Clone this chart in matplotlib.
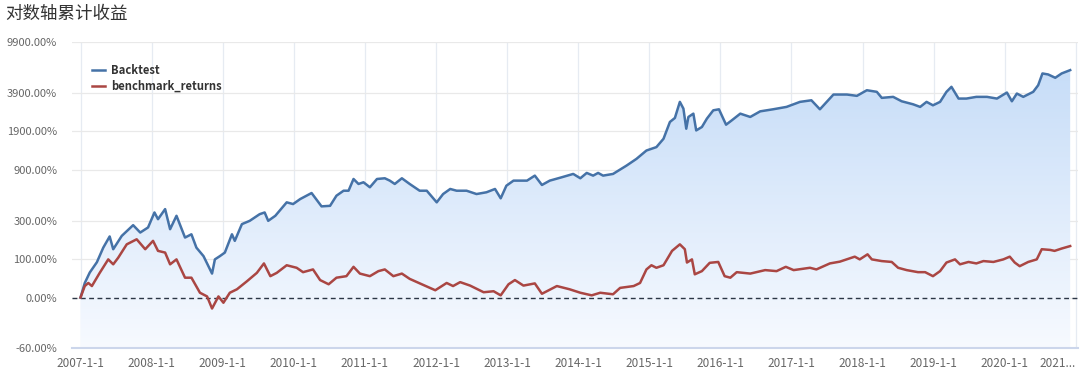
import numpy as np
import matplotlib
matplotlib.use('Agg')
import matplotlib.pyplot as plt
from matplotlib.lines import Line2D

plt.rcParams['font.family'] = ['Noto Sans CJK SC', 'DejaVu Sans']

# cumulative returns (%), x in fractional years
bt_years = [2007.00, 2007.06, 2007.13, 2007.23, 2007.32, 2007.41, 2007.46, 2007.58, 2007.74, 2007.84,
            2007.95, 2008.04, 2008.09, 2008.19, 2008.26, 2008.35, 2008.47, 2008.56, 2008.63, 2008.73,
            2008.85, 2008.89, 2008.96, 2009.03, 2009.13, 2009.17, 2009.27, 2009.38, 2009.52, 2009.59,
            2009.64, 2009.74, 2009.90, 2009.99, 2010.09, 2010.25, 2010.39, 2010.51, 2010.60, 2010.70,
            2010.77, 2010.84, 2010.91, 2010.98, 2011.07, 2011.17, 2011.28, 2011.35, 2011.42, 2011.52,
            2011.63, 2011.77, 2011.87, 2012.01, 2012.10, 2012.20, 2012.29, 2012.43, 2012.57, 2012.71,
            2012.83, 2012.91, 2012.99, 2013.09, 2013.28, 2013.39, 2013.49, 2013.60, 2013.77, 2013.93,
            2014.03, 2014.12, 2014.21, 2014.28, 2014.35, 2014.49, 2014.68, 2014.82, 2014.96, 2015.10,
            2015.20, 2015.29, 2015.36, 2015.43, 2015.48, 2015.52, 2015.55, 2015.62, 2015.66, 2015.74,
            2015.81, 2015.90, 2015.98, 2016.08, 2016.16, 2016.28, 2016.42, 2016.56, 2016.74, 2016.93,
            2017.12, 2017.28, 2017.40, 2017.59, 2017.78, 2017.92, 2018.06, 2018.20, 2018.27, 2018.43,
            2018.55, 2018.71, 2018.81, 2018.90, 2018.99, 2019.09, 2019.18, 2019.25, 2019.35, 2019.46,
            2019.60, 2019.75, 2019.89, 2020.03, 2020.10, 2020.17, 2020.26, 2020.40, 2020.47, 2020.53,
            2020.61, 2020.71, 2020.80, 2020.92]
bt_pct = [0, 30, 57, 89, 146, 201, 139, 204, 269, 223,
          254, 364, 311, 393, 243, 337, 195, 213, 146, 111,
          54, 99, 111, 125, 213, 178, 276, 299, 350, 364,
          299, 337, 457, 440, 491, 559, 418, 423, 528, 587,
          587, 749, 676, 700, 631, 749, 760, 724, 676, 760,
          676, 587, 587, 457, 547, 609, 587, 587, 547, 568,
          609, 499, 652, 724, 724, 802, 662, 724, 776, 830,
          760, 847, 802, 847, 802, 830, 981, 1121, 1319, 1409,
          1654, 2275, 2453, 3313, 2922, 2003, 2500, 2660, 1939, 2069,
          2421, 2831, 2885, 2161, 2345, 2660, 2500, 2777, 2885, 3017,
          3313, 3413, 2885, 3796, 3796, 3705, 4111, 3991, 3569, 3636,
          3350, 3168, 3017, 3313, 3108, 3313, 3991, 4378, 3523, 3523,
          3636, 3636, 3523, 3940, 3350, 3867, 3636, 3991, 4511, 5600,
          5498, 5172, 5600, 5952]

bm_years = [2007.00, 2007.06, 2007.11, 2007.16, 2007.27, 2007.39, 2007.46, 2007.53, 2007.65, 2007.79,
            2007.91, 2008.02, 2008.09, 2008.19, 2008.26, 2008.35, 2008.47, 2008.56, 2008.68, 2008.78,
            2008.85, 2008.94, 2009.01, 2009.10, 2009.20, 2009.34, 2009.48, 2009.58, 2009.67, 2009.76,
            2009.90, 2010.04, 2010.13, 2010.27, 2010.37, 2010.49, 2010.60, 2010.74, 2010.84, 2010.93,
            2011.07, 2011.19, 2011.28, 2011.40, 2011.52, 2011.63, 2011.80, 2011.99, 2012.15, 2012.24,
            2012.34, 2012.48, 2012.67, 2012.81, 2012.91, 2013.02, 2013.11, 2013.23, 2013.39, 2013.49,
            2013.70, 2013.88, 2014.03, 2014.19, 2014.31, 2014.49, 2014.59, 2014.78, 2014.87, 2014.96,
            2015.03, 2015.10, 2015.20, 2015.32, 2015.43, 2015.50, 2015.53, 2015.60, 2015.64, 2015.74,
            2015.85, 2015.97, 2016.06, 2016.14, 2016.23, 2016.42, 2016.63, 2016.79, 2016.92, 2017.03,
            2017.26, 2017.35, 2017.54, 2017.68, 2017.89, 2017.96, 2018.07, 2018.13, 2018.27, 2018.41,
            2018.50, 2018.62, 2018.78, 2018.88, 2018.99, 2019.09, 2019.18, 2019.30, 2019.37, 2019.49,
            2019.60, 2019.70, 2019.84, 2019.98, 2020.07, 2020.14, 2020.21, 2020.33, 2020.45, 2020.52,
            2020.64, 2020.70, 2020.80, 2020.92]
bm_pct = [0, 23, 30, 23, 56, 99, 82, 105, 161, 186,
          139, 178, 132, 125, 82, 99, 43, 43, 9, 2,
          -18, 2, -9, 9, 16, 34, 56, 85, 47, 56,
          79, 71, 58, 66, 37, 27, 43, 47, 74, 54,
          47, 61, 66, 47, 54, 40, 27, 14, 30, 23,
          32, 24, 10, 12, 4, 27, 37, 24, 29, 7,
          23, 16, 9, 4, 9, 6, 19, 23, 30, 66,
          79, 71, 79, 132, 161, 139, 88, 99, 52, 61,
          87, 90, 47, 43, 58, 54, 64, 61, 74, 64,
          71, 66, 85, 91, 109, 99, 118, 99, 93, 90,
          71, 64, 58, 58, 47, 61, 88, 99, 82, 90,
          85, 93, 90, 99, 109, 88, 76, 90, 99, 139,
          136, 132, 142, 153]

ytick_pct = [-60, 0, 100, 300, 900, 1900, 3900, 9900]
xtick_years = list(range(2007, 2022))
xtick_labels = ['%d-1-1' % y for y in xtick_years[:-1]] + ['2021...']

series_names = ['Backtest', 'benchmark_returns']
blue = '#4572A7'
red = '#AA4643'

# log axis on (1 + return)
bt_val = 1 + np.array(bt_pct) / 100.0
bm_val = 1 + np.array(bm_pct) / 100.0
ymin, ymax = 1 + ytick_pct[0] / 100.0, 1 + ytick_pct[-1] / 100.0

fig = plt.figure(figsize=(10.8, 3.75), dpi=100)
ax = fig.add_axes([71.7 / 1080, 26.7 / 375, (1078 - 71.7) / 1080, 306 / 375])
ax.set_yscale('log')
ax.set_ylim(ymin, ymax)
ax.set_xlim(2006.876, 2021.03)

# gradient area under the backtest line
poly = ax.fill_between(bt_years, bt_val, ymin, facecolor='none', edgecolor='none')
top_c = np.array([194, 218, 247]) / 255.0
bot_c = np.array([247, 250, 255]) / 255.0
t = np.linspace(0, 1, 256)[:, None]
grad = (top_c * (1 - t) + bot_c * t).reshape(256, 1, 3)
im = ax.imshow(grad, extent=[0, 1, 0, 1], transform=ax.transAxes, aspect='auto',
               origin='upper', zorder=1, interpolation='bilinear')
im.set_clip_path(poly.get_paths()[0], transform=ax.transData)

ax.plot(bt_years, bt_val, color=blue, lw=1.8, zorder=4)
ax.plot(bm_years, bm_val, color=red, lw=1.8, zorder=4)
ax.axhline(1.0, color='#2b3645', lw=1.0, ls=(0, (3.5, 2.5)), zorder=3)

# axes styling
ax.set_yticks([1 + p / 100.0 for p in ytick_pct])
ax.set_yticklabels(['%.2f%%' % p for p in ytick_pct])
ax.yaxis.set_minor_locator(matplotlib.ticker.NullLocator())
ax.set_xticks(xtick_years)
ax.set_xticklabels(xtick_labels)
ax.get_xticklabels()[-1].set_horizontalalignment('right')
ax.tick_params(axis='y', length=0, pad=10.5, labelsize=8, labelcolor='#666666')
ax.tick_params(axis='x', length=0, pad=6, labelsize=8.5, labelcolor='#666666')
ax.grid(axis='y', color='#e9e9e9', lw=0.9, zorder=0)
ax.grid(axis='x', color='#e6ebf2', lw=0.9, zorder=0)
ax.set_axisbelow(True)
for s in ['top', 'right', 'left']:
    ax.spines[s].set_visible(False)
ax.spines['bottom'].set_color('#ccd6eb')
ax.spines['bottom'].set_linewidth(1.5)

handles = [Line2D([], [], color=blue, lw=1.8), Line2D([], [], color=red, lw=1.8)]
ax.legend(handles, series_names, loc='upper left', bbox_to_anchor=(0.0199, 0.93),
          frameon=False, borderpad=0, borderaxespad=0, handlelength=1.2,
          handletextpad=0.5, labelspacing=0.3,
          prop={'weight': 'bold', 'size': 8.1}, labelcolor='#333333')

fig.text(0.005, 1 - 5 / 375, '对数轴累计收益', ha='left', va='top', fontsize=12.6, color='#333333')

fig.savefig('out.png', dpi=100)
